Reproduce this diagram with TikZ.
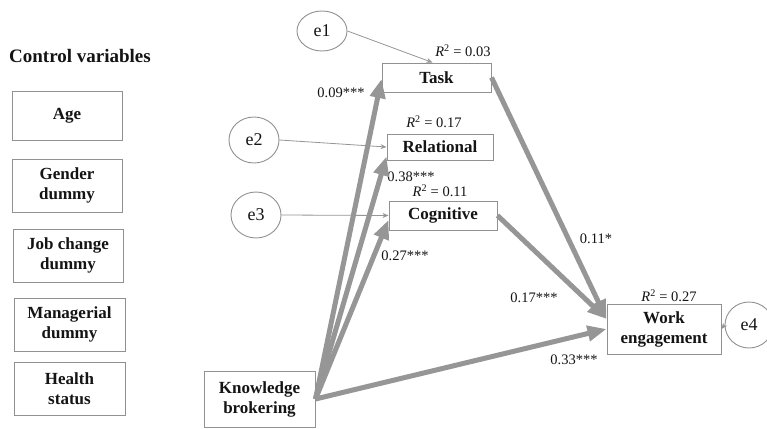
\documentclass[tikz,border=0pt]{standalone}
\usepackage{fontspec}
\setmainfont{Liberation Serif}
\usetikzlibrary{arrows.meta,calc,shapes.geometric}
\definecolor{boxgray}{RGB}{145,145,145}
\definecolor{arrgray}{RGB}{150,150,150}
\definecolor{ink}{RGB}{20,20,20}
\newcommand{\rsq}{\textit{R}\textsuperscript{2}}
\begin{document}
\begin{tikzpicture}[x=1pt,y=-1pt,
 box/.style={draw=boxgray, line width=1pt, inner sep=0pt, align=center, font=\fontsize{17}{20}\selectfont\bfseries, text=ink},
 err/.style={ellipse, draw=boxgray, line width=0.9pt, minimum width=50pt, minimum height=46pt, inner sep=0pt, font=\fontsize{18}{20}\selectfont, text=ink},
 coef/.style={font=\fontsize{14.5}{17}\selectfont, text=ink, inner sep=0pt},
 big/.style={draw=arrgray, line width=5pt, -{Triangle[length=19pt,width=15pt]}},
 thin/.style={draw=arrgray, line width=0.8pt, -{Stealth[length=6pt,width=5pt]}}
]
\fill[white] (0,0) rectangle (767,428);
\useasboundingbox (0,0) rectangle (767,428);

% header
\node[font=\fontsize{19}{22}\selectfont\bfseries, text=ink, inner sep=0pt] (hdr) at (80,56) {Control variables};

% control boxes
\node[box, minimum width=110pt, minimum height=49pt] (age) at (67,115.5) {Age};
\node[box, minimum width=110pt, minimum height=53pt] (gen) at (67,185.5) {Gender\\dummy};
\node[box, minimum width=110pt, minimum height=53pt] (job) at (68,255.5) {Job change\\dummy};
\node[box, minimum width=111pt, minimum height=53pt] (man) at (69.5,324.5) {Managerial\\dummy};
\node[box, minimum width=111pt, minimum height=53pt] (hea) at (69.5,388.5) {Health\\status};

% main boxes
\node[box, minimum width=111pt, minimum height=56pt] (kb) at (259.5,399) {Knowledge\\brokering};
\node[box, minimum width=109pt, minimum height=29pt] (task) at (436.5,77.5) {Task};
\node[box, minimum width=106pt, minimum height=26pt] (rel) at (440,147) {Relational};
\node[box, minimum width=108pt, minimum height=29pt] (cog) at (443,215.5) {Cognitive};
\node[box, minimum width=114pt, minimum height=50pt] (we) at (664,329) {Work\\engagement};

% error terms
\node[err, minimum height=40pt] (e1) at (322,31) {e1};
\node[err] (e2) at (254,140) {e2};
\node[err] (e3) at (256,215) {e3};
\node[err, minimum width=48pt] (e4) at (749,325) {e4};

% R squared labels
\node[coef] (r1) at (463,51) {\rsq{} = 0.03};
\node[coef] (r2) at (434,122) {\rsq{} = 0.17};
\node[coef] (r3) at (440,191) {\rsq{} = 0.11};
\node[coef] (r4) at (669,296) {\rsq{} = 0.27};

% coefficients
\node[coef] (c1) at (341,93) {0.09***};
\node[coef] (c2) at (411,177) {0.38***};
\node[coef] (c3) at (405,256) {0.27***};
\node[coef] (c4) at (596,239) {0.11*};
\node[coef] (c5) at (534,298) {0.17***};
\node[coef] (c6) at (574,360) {0.33***};

% thick paths
\draw[big] (kb.east) -- ($(task.south west)!0.45!(task.north west)$);
\draw[big] (kb.east) -- ($(rel.south west)!0.15!(rel.north west)$);
\draw[big] (kb.east) -- ($(cog.south west)!0.35!(cog.north west)$);
\draw[big] (kb.east) -- (we.west);
\draw[big] (task.east) -- ($(we.west)+(0,-10)$);
\draw[big] (cog.east) -- ($(we.west)+(0,-10)$);

% thin error arrows
\draw[thin] (e1.east) -- ($(task.north)+(-4,0)$);
\draw[thin] (e2.east) -- (rel.west);
\draw[thin] (e3.east) -- (cog.west);
\draw[thin] (e4.west) -- (we.east);
\end{tikzpicture}
\end{document}
